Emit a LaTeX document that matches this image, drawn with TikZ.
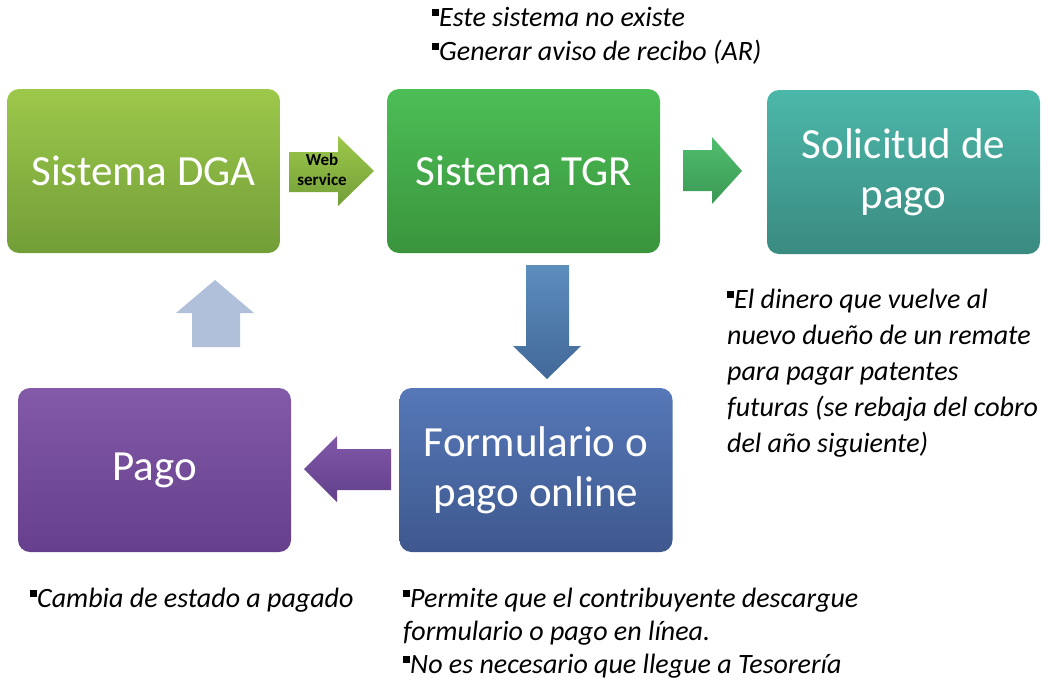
\documentclass[tikz,border=0pt]{standalone}
\usepackage{fontspec}
\setmainfont{Carlito}
\begin{document}
\begin{tikzpicture}[x=1pt,y=-1pt,
  box/.style={rounded corners=12pt, minimum width=273pt, minimum height=164pt,
    inner sep=0pt, text=white, align=center, font=\fontsize{43}{50}\selectfont},
  note/.style={anchor=north west, inner sep=0pt, align=left,
    font=\fontsize{28}{34}\selectfont\itshape},
  notewide/.style={note, font=\fontsize{28}{36}\selectfont\itshape}]
\newcommand{\bul}{\rule[10pt]{7pt}{7pt}}
\useasboundingbox (0,0) rectangle (1057,681);

% boxes
\node[box, top color={rgb,255:red,157;green,200;blue,75}, bottom color={rgb,255:red,114;green,158;blue,56}]
  (dga) at (143.5,171) {Sistema DGA};
\node[box, top color={rgb,255:red,76;green,190;blue,86}, bottom color={rgb,255:red,58;green,148;blue,60}]
  (tgr) at (523.5,171) {Sistema TGR};
\node[box, top color={rgb,255:red,76;green,184;blue,170}, bottom color={rgb,255:red,58;green,138;blue,128}]
  (sol) at (903.5,172) {Solicitud de\\pago};
\node[box, top color={rgb,255:red,86;green,120;blue,184}, bottom color={rgb,255:red,62;green,88;blue,142}]
  (form) at (536,470) {Formulario o\\pago online};
\node[box, top color={rgb,255:red,130;green,90;blue,168}, bottom color={rgb,255:red,102;green,64;blue,140}]
  (pago) at (154.5,470) {Pago};

% block arrows
\shade[top color={rgb,255:red,157;green,200;blue,75}, bottom color={rgb,255:red,114;green,158;blue,56}]
  (289,152)--(338,152)--(338,136)--(374,171)--(338,206)--(338,192)--(289,192)--cycle;
\node[font=\fontsize{17}{20}\selectfont\bfseries, align=center, inner sep=0pt] (ws) at (322,170) {Web\\service};
\shade[top color={rgb,255:red,80;green,190;blue,110}, bottom color={rgb,255:red,58;green,152;blue,84}]
  (683,150)--(712,150)--(712,137)--(742,171)--(712,204)--(712,191)--(683,191)--cycle;
\shade[top color={rgb,255:red,92;green,142;blue,190}, bottom color={rgb,255:red,66;green,104;blue,152}]
  (526,265)--(569,265)--(569,346)--(581,346)--(547,379)--(513,346)--(526,346)--cycle;
\shade[top color={rgb,255:red,128;green,88;blue,168}, bottom color={rgb,255:red,98;green,64;blue,138}]
  (391,449)--(337,449)--(337,436)--(304,469)--(337,502)--(337,490)--(391,490)--cycle;
\fill[fill={rgb,255:red,176;green,192;blue,218}]
  (192,347)--(192,313)--(176,313)--(215,280)--(254,313)--(240,313)--(240,347)--cycle;

% notes
\node[note] (n1) at (432,2) {\strut\bul Este sistema no existe\\\bul Generar aviso de recibo (AR)};
\node[notewide] (n2) at (727,283) {\strut\bul El dinero que vuelve al\\nuevo dueño de un remate\\para pagar patentes\\futuras (se rebaja del cobro\\del año siguiente)};
\node[note, font=\fontsize{28}{33}\selectfont\itshape] (n3) at (30,584) {\strut\bul Cambia de estado a pagado};
\node[note, font=\fontsize{28}{33}\selectfont\itshape] (n4) at (403,584) {\strut\bul Permite que el contribuyente descargue\\formulario o pago en línea.\\\bul No es necesario que llegue a Tesorería};
\end{tikzpicture}
\end{document}
